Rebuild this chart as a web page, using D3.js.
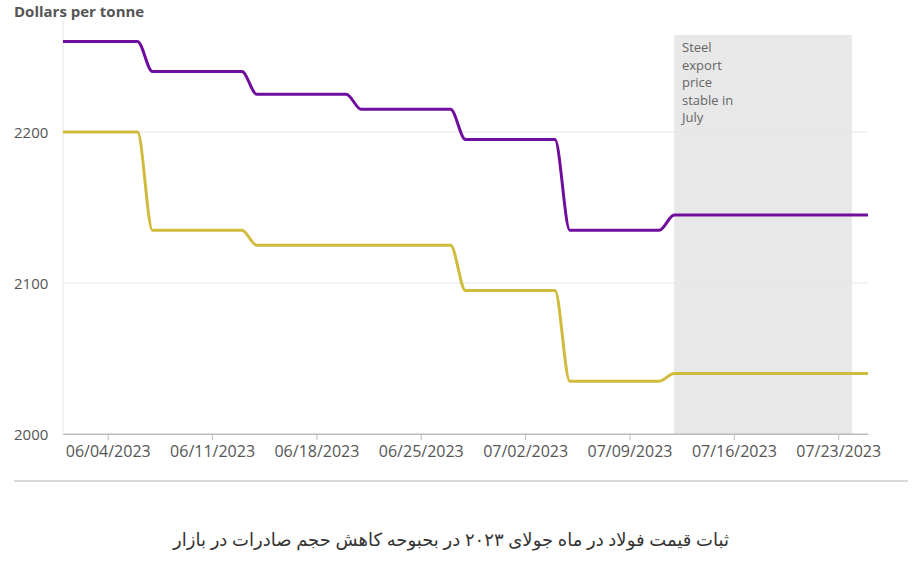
<!DOCTYPE html>
<html><head><meta charset="utf-8">
<script src="https://cdn.jsdelivr.net/npm/d3@7"></script>
<style>body{margin:0;background:#fff;font-family:"Open Sans",sans-serif}</style>
</head><body><svg id="c" width="912" height="563"></svg>
<script>
const dates = ["2023-06-01","2023-06-06","2023-06-07","2023-06-13","2023-06-14","2023-06-20","2023-06-21","2023-06-27","2023-06-28","2023-07-04","2023-07-05","2023-07-11","2023-07-12","2023-07-25"];
const exportPrice = [2260,2260,2240,2240,2225,2225,2215,2215,2195,2195,2135,2135,2145,2145];
const otherPrice  = [2200,2200,2135,2135,2125,2125,2125,2125,2095,2095,2035,2035,2040,2040];
const xTicks = ["2023-06-04","2023-06-11","2023-06-18","2023-06-25","2023-07-02","2023-07-09","2023-07-16","2023-07-23"];
const yTicks = [2000,2100,2200];
const shade = ["2023-07-12","2023-07-23T22:00"];
const note = ["Steel","export","price","stable in","July"];
const caption = "ثبات قیمت فولاد در ماه جولای ۲۰۲۳ در بحبوحه کاهش حجم صادرات در بازار";

const svg = d3.select("#c");
const p = d3.timeParse("%Y-%m-%d"), pi = d3.isoParse;
const x = d3.scaleTime().domain([p("2023-06-01"), p("2023-07-25")]).range([63,868]);
const y = d3.scaleLinear().domain([2000,2200]).range([434,132]);

svg.append("rect").attr("x",x(pi(shade[0]))).attr("y",35).attr("width",x(pi(shade[1]))-x(pi(shade[0]))).attr("height",399).attr("fill","#e8e8e8");
svg.selectAll(".g").data(yTicks).join("line").attr("x1",63).attr("x2",868).attr("y1",d=>y(d)).attr("y2",d=>y(d)).attr("stroke",(d,i)=>i?"#e6e6e6":"#bbb");
svg.append("line").attr("x1",63).attr("x2",63).attr("y1",20).attr("y2",434).attr("stroke","#e6e6e6");
svg.selectAll(".yl").data(yTicks).join("text").attr("x",14).attr("y",d=>y(d)+6).attr("font-size",15).attr("fill","#555").text(d=>d);
const xa = svg.append("g").attr("transform","translate(0,434)").call(d3.axisBottom(x).tickValues(xTicks.map(p)).tickFormat(d3.timeFormat("%m/%d/%Y")).tickSize(6).tickSizeOuter(0));
xa.select(".domain").attr("stroke","#bbb");
xa.selectAll("line").attr("stroke","#bbb");
xa.selectAll("text").attr("font-size",16).attr("fill","#555").attr("font-family","Open Sans").attr("dy","0.85em");
svg.append("text").attr("x",14).attr("y",17).attr("font-weight","bold").attr("font-size",15).attr("fill","#555").text("Dollars per tonne");
const line = d3.line().x((d,i)=>x(p(dates[i]))).y(d=>y(d)).curve(d3.curveMonotoneX);
svg.append("path").attr("d",line(otherPrice)).attr("fill","none").attr("stroke","#d1bb3c").attr("stroke-width",3);
svg.append("path").attr("d",line(exportPrice)).attr("fill","none").attr("stroke","#6f0e9e").attr("stroke-width",3);
svg.selectAll(".n").data(note).join("text").attr("x",682).attr("y",(d,i)=>52+i*17.5).attr("font-size",13).attr("fill","#666").text(d=>d);
svg.append("line").attr("x1",14).attr("x2",908).attr("y1",481).attr("y2",481).attr("stroke","#ccc").attr("stroke-width",1.5);
svg.append("text").attr("x",451).attr("y",546).attr("text-anchor","middle").attr("direction","rtl").attr("font-size",18).attr("fill","#333").attr("font-family","Noto Sans, DejaVu Sans").text(caption);
</script></body></html>
